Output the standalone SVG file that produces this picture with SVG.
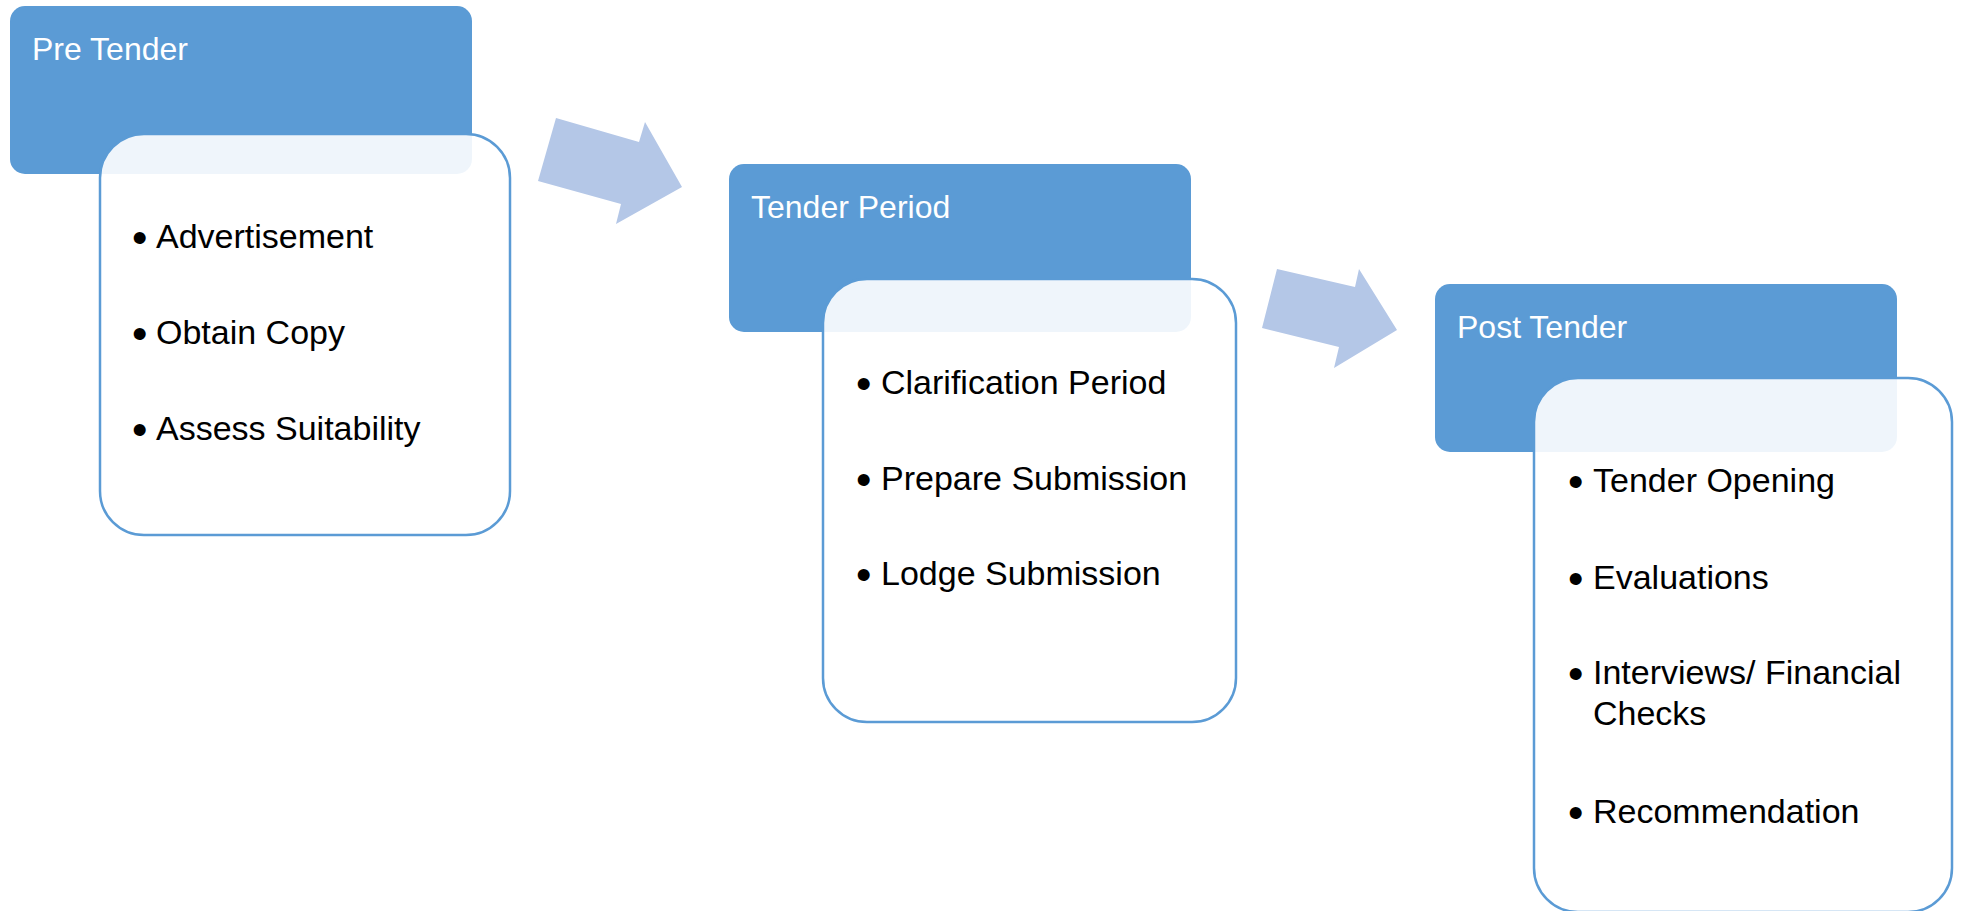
<svg xmlns="http://www.w3.org/2000/svg" width="1961" height="911" viewBox="0 0 1961 911">
<style>
.hdr{fill:#5B9BD5}
.body{fill:#FFFFFF;fill-opacity:0.9;stroke:#5B9BD5;stroke-width:2.5}
.ht{font-family:"Liberation Sans",Arial,sans-serif;font-size:32px;fill:#FFFFFF}
.it{font-family:"Liberation Sans",Arial,sans-serif;font-size:34px;fill:#000000}
.bu{font-family:"Liberation Sans",Arial,sans-serif;font-size:44px;fill:#000000}
.arr{fill:#B4C7E7}
</style>
<rect width="1961" height="911" fill="#FFFFFF"/>
<g id="connectors">
<polygon class="arr" points="556,118 639,142 645,122 682,187 616,224 621,204 538,181"/>
<polygon class="arr" points="1277,269 1355,287 1359,269 1397,330 1334,368 1339,347 1262,328"/>
</g>
<g id="pre-tender">
<rect class="hdr" x="10" y="6" width="462" height="168" rx="15"/>
<text class="ht" x="32" y="60">Pre Tender</text>
<rect class="body" x="100" y="134" width="410" height="401" rx="44"/>
<text class="bu" x="132" y="253">•</text><text class="it" x="156" y="248">Advertisement</text>
<text class="bu" x="132" y="349">•</text><text class="it" x="156" y="344">Obtain Copy</text>
<text class="bu" x="132" y="445">•</text><text class="it" x="156" y="440">Assess Suitability</text>
</g>
<g id="tender-period">
<rect class="hdr" x="729" y="164" width="462" height="168" rx="15"/>
<text class="ht" x="751" y="218">Tender Period</text>
<rect class="body" x="823" y="279" width="413" height="443" rx="44"/>
<text class="bu" x="856" y="399">•</text><text class="it" x="881" y="394">Clarification Period</text>
<text class="bu" x="856" y="495">•</text><text class="it" x="881" y="490">Prepare Submission</text>
<text class="bu" x="856" y="590">•</text><text class="it" x="881" y="585">Lodge Submission</text>
</g>
<g id="post-tender">
<rect class="hdr" x="1435" y="284" width="462" height="168" rx="15"/>
<text class="ht" x="1457" y="338">Post Tender</text>
<rect class="body" x="1534" y="378" width="418" height="534" rx="44"/>
<text class="bu" x="1568" y="497">•</text><text class="it" x="1593" y="492">Tender Opening</text>
<text class="bu" x="1568" y="594">•</text><text class="it" x="1593" y="589">Evaluations</text>
<text class="bu" x="1568" y="689">•</text><text class="it" x="1593" y="684">Interviews/ Financial</text>
<text class="it" x="1593" y="725">Checks</text>
<text class="bu" x="1568" y="828">•</text><text class="it" x="1593" y="823">Recommendation</text>
</g>
</svg>
